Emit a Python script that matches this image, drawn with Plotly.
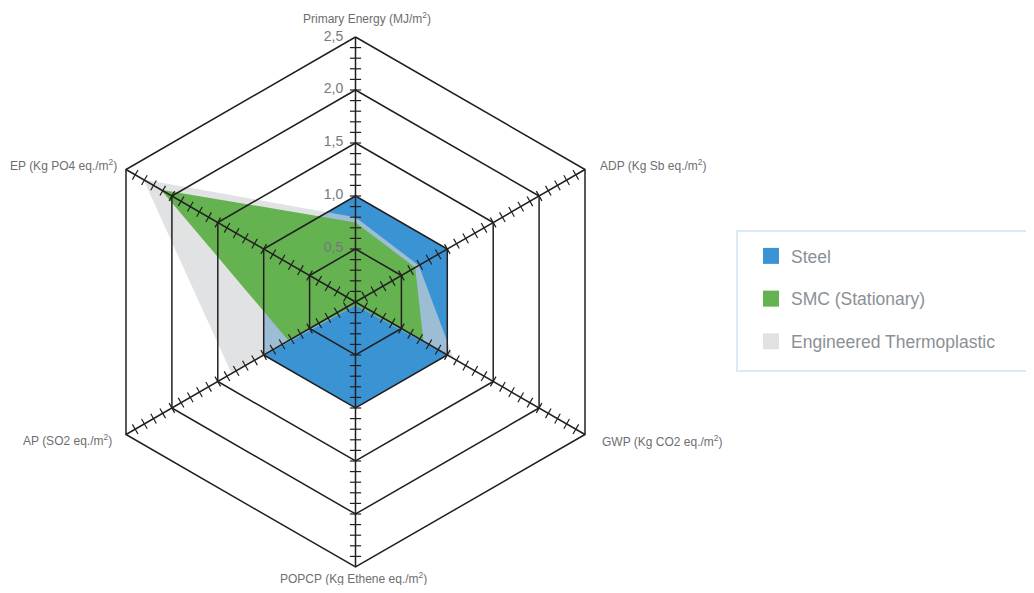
import numpy as np
import plotly.graph_objects as go

# axis categories, clockwise from the top
categories = [
    'Primary Energy (MJ/m<sup>2</sup>)',
    'ADP (Kg Sb eq./m<sup>2</sup>)',
    'GWP (Kg CO2 eq./m<sup>2</sup>)',
    'POPCP (Kg Ethene eq./m<sup>2</sup>)',
    'AP (SO2 eq./m<sup>2</sup>)',
    'EP (Kg PO4 eq./m<sup>2</sup>)',
]
steel = [1.0, 1.0, 1.0, 1.0, 1.0, 1.0]
smc = [0.75, 0.65, 0.74, 0.03, 0.73, 2.12]
thermo = [0.80, 0.69, 1.07, 0.03, 1.35, 2.31]
grid_levels = [0.0, 0.5, 1.0, 1.5, 2.0, 2.5]
r_max = 2.5

series = [
    ('Steel', steel, '#3a94d4', '#3a94d4'),
    ('Engineered Thermoplastic', thermo, 'rgba(209,211,213,0.66)', '#e0e1e1'),
    ('SMC (Stationary)', smc, '#64b250', '#64b250'),
]

# page is shown with an 8px body margin: shrink the figure and place things 8px up/left
off = 8
W, H = 1034 - 2 * off, 593 - 2 * off

fig = go.Figure()

def closed(vals):
    return list(vals) + [vals[0]]

# filled areas: steel below, thermoplastic (translucent), SMC on top
for name, vals, fill, _ in series:
    fig.add_trace(go.Scatterpolar(
        r=closed(vals), theta=closed(categories), mode='lines',
        fill='toself', fillcolor=fill, line=dict(width=0, color=fill),
        showlegend=False, hoverinfo='skip',
    ))

# hexagon grid drawn above the fills
for lvl in grid_levels[1:]:
    fig.add_trace(go.Scatterpolar(
        r=[lvl] * (len(categories) + 1), theta=closed(categories), mode='lines',
        line=dict(color='#231f20', width=1.5),
        showlegend=False, hoverinfo='skip',
    ))

# spokes
sp_r, sp_t = [], []
for c in categories:
    sp_r += [0, r_max, None]
    sp_t += [c, c, None]
fig.add_trace(go.Scatterpolar(
    r=sp_r, theta=sp_t, mode='lines', connectgaps=False,
    line=dict(color='#231f20', width=1.5), showlegend=False, hoverinfo='skip',
))

# minor tick marks along every spoke
tick_r = np.round(np.arange(0.1, r_max - 0.05, 0.1), 2)
for i, c in enumerate(categories):
    fig.add_trace(go.Scatterpolar(
        r=tick_r, theta=[c] * len(tick_r), mode='markers',
        marker=dict(symbol='line-ew', size=8, angle=60 * i,
                    line=dict(color='#231f20', width=1.2)),
        showlegend=False, hoverinfo='skip',
    ))

# radial labels next to the top spoke
fig.add_trace(go.Scatterpolar(
    r=grid_levels, theta=[categories[0]] * len(grid_levels),
    mode='markers+text', text=[f'{v:.1f}'.replace('.', ',') for v in grid_levels],
    textposition='middle left', textfont=dict(size=14, color='#77787b'),
    marker=dict(size=18, color='rgba(0,0,0,0)'), cliponaxis=False,
    showlegend=False, hoverinfo='skip',
))

# legend entries
for grp, (name, _, _, swatch) in zip('abc', [series[0], series[2], series[1]]):
    fig.add_trace(go.Scatterpolar(
        r=[None], theta=[categories[0]], mode='markers', name=name,
        legendgroup=grp,
        marker=dict(symbol='square', size=16, color=swatch),
    ))

# axis-name placement (page pixels, anchor)
label_pos = [
    (367, 18, 'center'),
    (598, 165, 'left'),
    (600, 441, 'left'),
    (353, 578, 'center'),
    (114, 440, 'right'),
    (119, 165, 'right'),
]
annotations = [
    dict(text=t, x=(px - off) / W, y=1 - (py - off) / H, xref='paper', yref='paper',
         xanchor=xa, yanchor='middle', showarrow=False,
         font=dict(size=12, color='#6d6e71'))
    for t, (px, py, xa) in zip(categories, label_pos)
]

# pad the radial range a touch so the outer hexagon line is not clipped
r_pad = 2.53
cx, cy = 355.5 - off, 302 - off
R = 265 * r_pad / r_max
fig.update_layout(
    width=W, height=H,
    margin=dict(l=0, r=0, t=0, b=0),
    paper_bgcolor='white',
    font=dict(family='Liberation Sans, Arial, sans-serif', color='#6d6e71'),
    polar=dict(
        domain=dict(x=[(cx - R) / W, (cx + R) / W], y=[1 - (cy + R) / H, 1 - (cy - R) / H]),
        bgcolor='white',
        gridshape='linear',
        angularaxis=dict(
            categoryorder='array', categoryarray=categories,
            direction='clockwise', rotation=90,
            showgrid=False, showline=False, ticks='', showticklabels=False,
        ),
        radialaxis=dict(
            range=[0, r_pad], angle=90,
            showgrid=False, showline=False, ticks='', showticklabels=False,
        ),
    ),
    annotations=annotations,
    legend=dict(
        x=(751 - off) / W, y=1 - (238 - off) / H, xanchor='left', yanchor='top',
        borderwidth=0, bgcolor='rgba(0,0,0,0)',
        font=dict(size=17.5, color='#8b9096'),
        traceorder='grouped', tracegroupgap=17,
        itemsizing='trace',
    ),
    shapes=[dict(
        type='rect', xref='paper', yref='paper',
        x0=(737 - off) / W, x1=(1031 - off) / W,
        y0=1 - (371 - off) / H, y1=1 - (231 - off) / H,
        line=dict(color='#dcebf3', width=2), fillcolor='rgba(0,0,0,0)', layer='below',
    )],
)

fig.write_html('out.html')
